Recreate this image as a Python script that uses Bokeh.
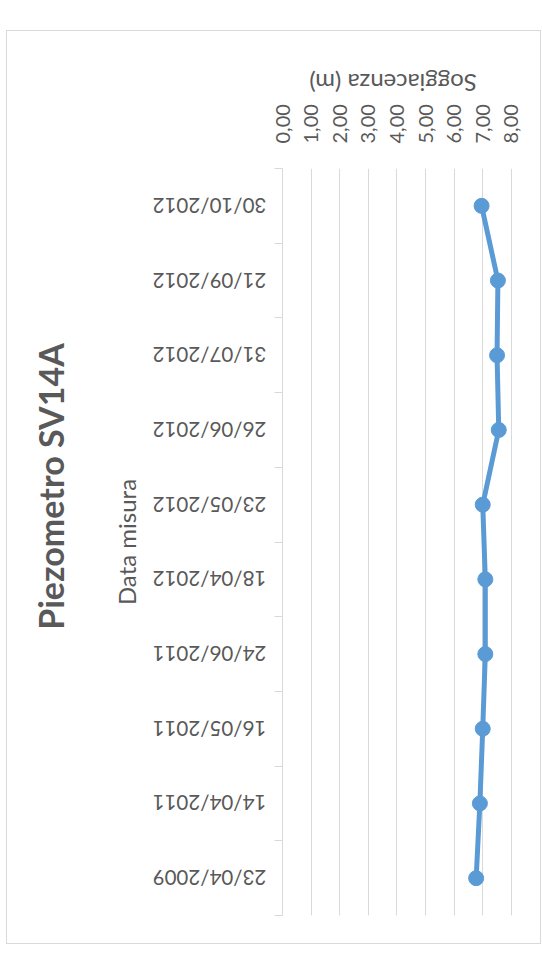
from math import pi

from bokeh.core.properties import value
from bokeh.embed import file_html
from bokeh.layouts import column, row
from bokeh.models import ColumnDataSource, FixedTicker, Label, LabelSet, Range1d
from bokeh.plotting import figure
from bokeh.resources import INLINE

# Measurement dates (bottom to top) and water-table depth in metres
dates = ["23/04/2009", "14/04/2011", "16/05/2011", "24/06/2011", "18/04/2012",
         "23/05/2012", "26/06/2012", "31/07/2012", "21/09/2012", "30/10/2012"]
depth = [6.77, 6.90, 7.00, 7.09, 7.09, 7.00, 7.56, 7.50, 7.53, 6.96]

value_ticks = [0, 1, 2, 3, 4, 5, 6, 7, 8]
value_tick_labels = ["0,00", "1,00", "2,00", "3,00", "4,00", "5,00", "6,00", "7,00", "8,00"]

title_text = "Piezometro SV14A"
date_axis_title = "Data misura"
depth_axis_title = "Soggiacenza (m)"

GREY_TXT = "#595959"
GREY_LINE = "#d9d9d9"
BLUE = "#5b9bd5"
FONT = "Lato"

# ---- geometry of the chart box (pixels, box origin at page (7, 31)) ----
BOX_L, BOX_T, BOX_W, BOX_H = 7, 31, 533, 912
F_LEFT, F_TOP, F_RIGHT, F_BOTTOM = 275, 137, 511, 884   # plot frame inside the box
AXIS_GAP = 12            # room for the category tick marks
LEFT_W = F_LEFT - AXIS_GAP
RIGHT_W = BOX_W - LEFT_W
TOP_AXIS_H = 70          # room for the value tick labels
TOP_H = F_TOP - TOP_AXIS_H
X_END = 8.25
PX_X = (F_RIGHT - F_LEFT) / X_END
N = len(dates)
PX_Y = (F_BOTTOM - F_TOP) / N

ypos = [i + 0.5 for i in range(N)]
src = ColumnDataSource(dict(depth=depth, y=ypos, date=dates))


def bare(width, height, x_range, y_range):
    f = figure(width=width, height=height, x_range=x_range, y_range=y_range,
               x_axis_location=None, y_axis_location=None,
               min_border=0, output_backend="svg", toolbar_location=None)
    f.outline_line_color = None
    f.grid.visible = False
    return f


# ---- main plot: value axis on top, category axis on the left ----
p = figure(width=RIGHT_W, height=BOX_H - TOP_H,
           x_range=Range1d(0, X_END), y_range=Range1d(0, N),
           x_axis_location="above",
           min_border_left=AXIS_GAP, min_border_right=BOX_W - F_RIGHT,
           min_border_top=TOP_AXIS_H, min_border_bottom=BOX_H - F_BOTTOM,
           output_backend="svg", toolbar_location=None)
p.outline_line_color = None

xa = p.xaxis[0]
xa.ticker = FixedTicker(ticks=value_ticks)
xa.major_label_overrides = {t: lab for t, lab in zip(value_ticks, value_tick_labels)}
xa.major_label_orientation = "vertical"
xa.major_label_standoff = 25
xa.major_label_text_font = FONT
xa.major_label_text_font_size = "20px"
xa.major_label_text_color = GREY_TXT
xa.axis_line_color = None
xa.major_tick_out = 0
xa.major_tick_line_color = None
xa.minor_tick_line_color = None

p.xgrid.ticker = FixedTicker(ticks=value_ticks)
p.xgrid.grid_line_color = GREY_LINE
p.xgrid.grid_line_width = 1
p.ygrid.visible = False

ya = p.yaxis[0]
ya.ticker = FixedTicker(ticks=[], minor_ticks=list(range(N + 1)))
ya.major_label_standoff = 0
ya.major_tick_out = 0
ya.major_tick_in = 0
ya.minor_tick_in = 0
ya.minor_tick_out = 8
ya.minor_tick_line_color = GREY_LINE
ya.axis_line_color = GREY_LINE

p.line("depth", "y", source=src, line_color=BLUE, line_width=5, line_join="round")
p.scatter("depth", "y", source=src, size=15, fill_color=BLUE, line_color=BLUE)

# ---- left strip: title, category axis title and date labels ----
left = bare(LEFT_W, BOX_H, Range1d(0, LEFT_W),
            Range1d(-(BOX_H - F_BOTTOM) / PX_Y, N + F_TOP / PX_Y))
left.add_layout(LabelSet(x=202, y="y", text="date", source=src, angle=pi,
                         text_align="center", text_baseline="middle",
                         text_font=value(FONT), text_font_size=value("20.5px"),
                         text_color=GREY_TXT))
left.add_layout(Label(x=119, y=N / 2, text=date_axis_title, angle=pi / 2,
                      text_align="center", text_baseline="middle",
                      text_font=FONT, text_font_size="24px", text_color=GREY_TXT))
left.add_layout(Label(x=43, y=(F_BOTTOM - 455) / PX_Y, text=title_text, angle=pi / 2,
                      text_align="center", text_baseline="middle",
                      text_font=FONT, text_font_size="34px", text_font_style="bold",
                      text_color=GREY_TXT))

# ---- top strip: value axis title ----
top = bare(RIGHT_W, TOP_H,
           Range1d(-AXIS_GAP / PX_X, X_END + (BOX_W - F_RIGHT) / PX_X),
           Range1d(0, TOP_H))
top.add_layout(Label(x=(value_ticks[0] + value_ticks[-1]) / 2, y=TOP_H - 52,
                     text=depth_axis_title, angle=pi,
                     text_align="center", text_baseline="middle",
                     text_font=FONT, text_font_size="24px", text_color=GREY_TXT))

chart = row(left, column(top, p, spacing=0), spacing=0)
chart.margin = (BOX_T, 542 - BOX_L - BOX_W, 955 - BOX_T - BOX_H, BOX_L)
chart.styles = {"outline": "1.5px solid " + GREY_LINE, "background-color": "white"}

open("out.html", "w").write(file_html(chart, INLINE))
